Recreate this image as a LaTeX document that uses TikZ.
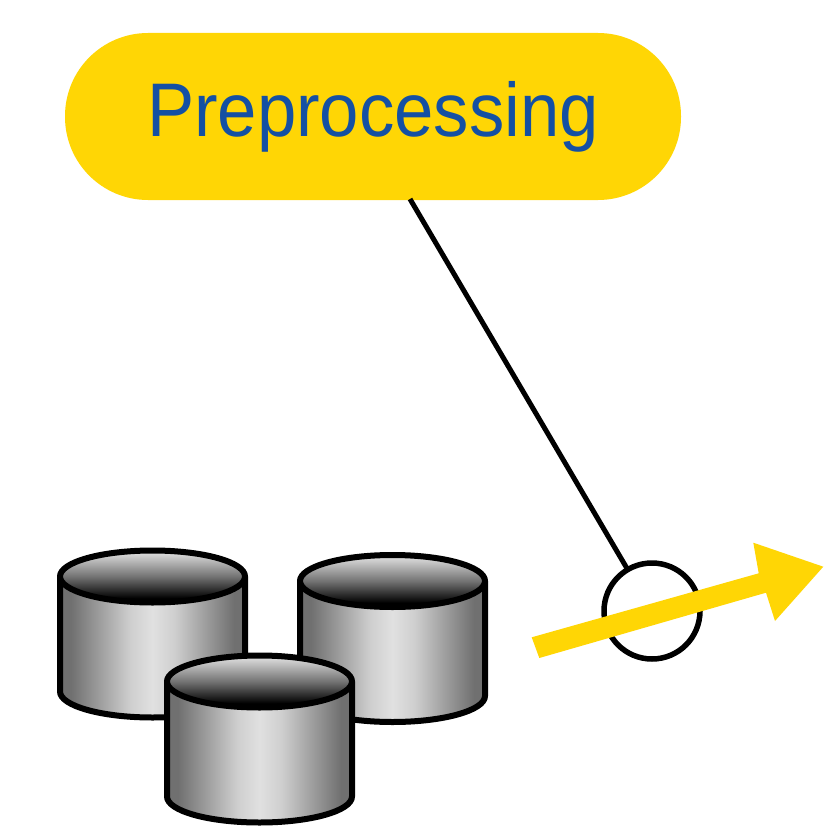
\documentclass[tikz,border=0pt]{standalone}
\usepackage{fontspec}
\setmainfont[FakeStretch=0.93]{Liberation Sans}
\definecolor{sun}{HTML}{FFD605}
\definecolor{ink}{HTML}{1450A3}
\pgfdeclareverticalshading{cyltop}{100bp}{color(0bp)=(black); color(29bp)=(black); color(50bp)=(black!55); color(75bp)=(black!10); color(100bp)=(black!10)}
\pgfdeclarehorizontalshading{cylside}{100bp}{color(0bp)=(black!56); color(28bp)=(black!56); color(44bp)=(black!19); color(50bp)=(black!12); color(56bp)=(black!19); color(72bp)=(black!56); color(100bp)=(black!56)}
\tikzset{drumline/.style={draw=black,line width=6pt,line join=round}}
% one drum: cx = centre x, ty = centre y of the top ellipse
\newcommand{\drum}[2]{%
  \begin{scope}[shift={(#1,#2)}]
    \path[shade,shading=cylside,drumline] (-92.5,0) -- (-92.5,115) arc[x radius=92.5,y radius=26,start angle=180,end angle=0] -- (92.5,0) -- cycle;
    \path[shade,shading=cyltop,drumline] (0,0) ellipse[x radius=92.5,y radius=26];
  \end{scope}}
\begin{document}
\begin{tikzpicture}[x=1pt,y=1pt,yscale=-1]
\useasboundingbox (0,0) rectangle (840,840);
\node[fill=sun,rounded corners=83,minimum width=616,minimum height=167,inner sep=0,text=ink] (pill) at (373,116.5) {\fontsize{76}{84}\selectfont Preprocessing};
\node[circle,draw=black,line width=5.5pt,minimum size=96,inner sep=0,outer sep=0] (ring) at (652,611) {};
\coordinate (pillexit) at (410,199);
\draw[line width=5pt] (pillexit) -- (ring);
\fill[sun] (531.7,637.3) -- (758.7,573.3) -- (753.3,542.7) -- (823.3,566.7) -- (775,621) -- (766,592.7) -- (539.3,658) -- cycle;
\drum{152.5}{576.5}
\drum{392.5}{581}
\drum{259.5}{681.5}
\end{tikzpicture}
\end{document}
